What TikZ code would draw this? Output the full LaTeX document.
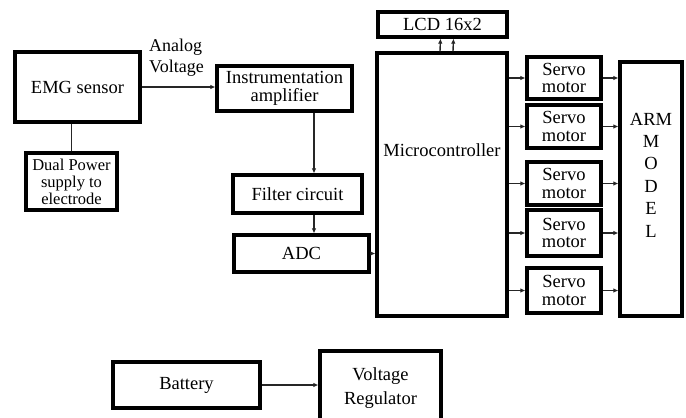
\documentclass[tikz,border=0pt]{standalone}
\usepackage{fontspec}
\setmainfont{Liberation Serif}
\usetikzlibrary{arrows.meta, positioning, calc}

\begin{document}
\begin{tikzpicture}[
    x=1pt, y=-1pt,
    block/.style={rectangle, draw=black, line width=3.2pt, fill=white, align=center, inner sep=1pt, font=\fontsize{18.5}{17.5}\selectfont},
    conn/.style={-{Latex[length=5pt, width=4.5pt]}, line width=1.4pt, color=black!85},
    plain/.style={line width=1.4pt, color=black!85}
]
\useasboundingbox (0,0) rectangle (686,418);
% sensing chain
\node[block, minimum width=125pt, minimum height=70pt] (emg) at (77.5,87) {EMG sensor};
\node[block, minimum width=91pt, minimum height=57pt, font=\fontsize{16.5}{17}\selectfont] (dual) at (71.5,181.5) {Dual Power\\supply to\\electrode};
\node[block, minimum width=135pt, minimum height=45pt] (inamp) at (284.5,88.5) {Instrumentation\\amplifier};
\node[block, minimum width=129pt, minimum height=38pt] (filter) at (297.5,194) {Filter circuit};
\node[block, minimum width=135pt, minimum height=37pt] (adc) at (301.5,253.5) {ADC};
\node[anchor=north west, align=left, inner sep=0pt, font=\fontsize{18}{21}\selectfont] (analog) at (149,39) {Analog\\Voltage};
\coordinate (bus) at (314,0);
% controller and outputs
\node[block, minimum width=130pt, minimum height=263pt, label={[yshift=34pt, font=\fontsize{18.5}{17.5}\selectfont]center:Microcontroller}] (mcu) at (442,184.5) {};
\node[block, minimum width=129pt, minimum height=25pt] (lcd) at (442.5,24.5) {LCD 16x2};
\node[block, minimum width=74pt, minimum height=42pt] (servo1) at (564,78) {Servo\\motor};
\node[block, minimum width=74pt, minimum height=43pt] (servo2) at (564,126.5) {Servo\\motor};
\node[block, minimum width=74pt, minimum height=43pt] (servo3) at (564,183.5) {Servo\\motor};
\node[block, minimum width=74pt, minimum height=46pt] (servo4) at (564,233) {Servo\\motor};
\node[block, minimum width=74pt, minimum height=45pt] (servo5) at (564,290.5) {Servo\\motor};
\node[block, minimum width=62pt, minimum height=254pt, label={[yshift=14pt, align=center, font=\fontsize{18.5}{22.4}\selectfont]center:ARM\\M\\O\\D\\E\\L}] (arm) at (651,189) {};
% power
\node[block, minimum width=147pt, minimum height=46pt] (battery) at (186.5,385) {Battery};
\node[block, minimum width=121pt, minimum height=74pt, font=\fontsize{18.5}{24}\selectfont] (reg) at (380.5,388) {Voltage\\Regulator};

\draw[conn] (emg.east) -- (emg.east -| inamp.west);
\draw[plain] (dual.north) -- (dual.north |- emg.south);
\draw[conn] (inamp.south -| bus) -- (filter.north -| bus);
\draw[conn] (filter.south -| bus) -- (adc.north -| bus);
\draw[conn] (adc.east) -- (adc.east -| mcu.west);
\draw[conn] ([xshift=-2pt]mcu.north) -- ([xshift=-2pt]lcd.south);
\draw[conn] ([xshift=11pt]mcu.north) -- ([xshift=11pt]lcd.south);
\foreach \s in {servo1, servo2, servo3, servo4, servo5} {
  \draw[conn] (\s.west -| mcu.east) -- (\s.west);
  \draw[conn] (\s.east) -- (\s.east -| arm.west);
}
\draw[conn] (battery.east) -- (battery.east -| reg.west);
\end{tikzpicture}
\end{document}
